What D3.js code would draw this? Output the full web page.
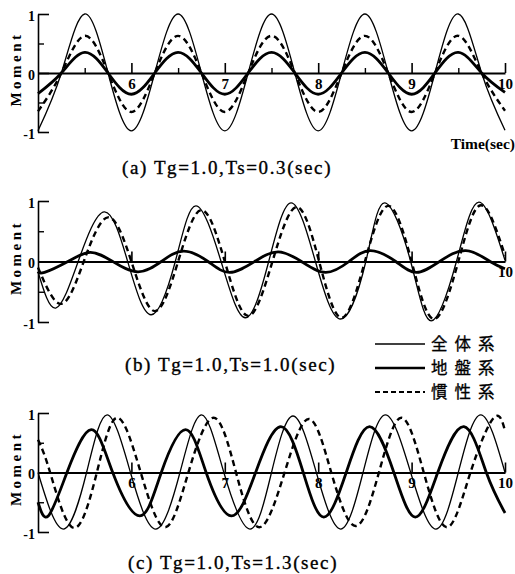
<!DOCTYPE html>
<html><head><meta charset="utf-8">
<script src="https://cdn.jsdelivr.net/npm/d3@7"></script>
<style>body{margin:0;background:#fff}svg{display:block}</style>
</head><body>
<svg id="chart" width="515" height="574"></svg>
<script>
// ---- data (time [s], normalized moment) ----
const aTotal = [[5.0,-0.98],[5.25,0],[5.5,1.0],[5.75,0],[6.0,-0.98],[6.25,0],[6.5,1.0],[6.75,0],[7.0,-0.98],[7.25,0],[7.5,1.0],[7.75,0],[8.0,-0.98],[8.25,0],[8.5,1.0],[8.75,0],[9.0,-0.98],[9.25,0],[9.5,1.0],[9.75,0],[10.0,-0.97]];
const aGround = [[5.0,-0.35],[5.25,0],[5.5,0.35],[5.75,0],[6.0,-0.36],[6.25,0],[6.5,0.35],[6.75,0],[7.0,-0.36],[7.25,0],[7.5,0.35],[7.75,0],[8.0,-0.36],[8.25,0],[8.5,0.35],[8.75,0],[9.0,-0.36],[9.25,0],[9.5,0.35],[9.75,0],[10.0,-0.33]];
const aInertial = [[5.0,-0.65],[5.25,0],[5.5,0.63],[5.75,0],[6.0,-0.66],[6.25,0],[6.5,0.63],[6.75,0],[7.0,-0.66],[7.25,0],[7.5,0.63],[7.75,0],[8.0,-0.66],[8.25,0],[8.5,0.63],[8.75,0],[9.0,-0.66],[9.25,0],[9.5,0.63],[9.75,0],[10.0,-0.64]];

const bTotal = [[5.0,-0.17],[5.19,-0.77],[5.43,0],[5.71,0.82],[5.96,0],[6.21,-0.88],[6.47,0],[6.69,0.92],[6.96,0],[7.22,-0.93],[7.47,0],[7.71,0.97],[7.97,0],[8.24,-0.95],[8.51,0],[8.71,0.97],[8.99,0],[9.21,-0.98],[9.48,0],[9.72,0.98],[10.0,0.02]];
const bGround = [[5.0,-0.17],[5.07,-0.18],[5.32,0],[5.56,0.15],[5.8,0],[6.07,-0.17],[6.32,0],[6.56,0.17],[6.82,0],[7.05,-0.18],[7.32,0],[7.57,0.16],[7.82,0],[8.08,-0.18],[8.33,0],[8.56,0.18],[8.83,0],[9.05,-0.18],[9.3,0],[9.58,0.18],[9.84,0],[10.0,-0.12]];
const bInertial = [[5.0,-0.1],[5.25,-0.7],[5.49,0],[5.75,0.73],[6.0,0],[6.25,-0.82],[6.5,0],[6.75,0.85],[7.0,0],[7.25,-0.9],[7.51,0],[7.77,0.9],[8.01,0],[8.25,-0.93],[8.5,0],[8.75,0.92],[9.0,0],[9.24,-0.95],[9.5,0],[9.74,0.93],[10.0,0.1]];

const cTotal = [[5.0,0],[5.27,-0.95],[5.52,0],[5.74,0.97],[5.99,0],[6.26,-0.95],[6.52,0],[6.75,0.97],[6.99,0],[7.27,-0.95],[7.5,0],[7.73,0.95],[7.98,0],[8.24,-0.95],[8.48,0],[8.72,0.97],[8.99,0],[9.26,-0.95],[9.5,0],[9.74,0.97],[10.0,0]];
const cGround = [[5.0,-0.5],[5.11,-0.73],[5.31,0],[5.57,0.72],[5.8,0],[6.09,-0.73],[6.32,0],[6.58,0.72],[6.8,0],[7.07,-0.73],[7.33,0],[7.6,0.77],[7.84,0],[8.06,-0.75],[8.3,0],[8.55,0.77],[8.81,0],[9.04,-0.75],[9.28,0],[9.56,0.77],[9.8,0],[10.0,-0.68]];
const cInertial = [[5.0,0.55],[5.13,0],[5.38,-0.93],[5.63,0],[5.85,0.92],[6.1,0],[6.36,-0.92],[6.61,0],[6.88,0.92],[7.12,0],[7.37,-0.92],[7.64,0],[7.9,0.9],[8.14,0],[8.4,-0.9],[8.65,0],[8.89,0.92],[9.13,0],[9.38,-0.92],[9.63,0],[9.88,0.92],[10.0,0.7]];

const captions = ["(a) Tg=1.0,Ts=0.3(sec)", "(b) Tg=1.0,Ts=1.0(sec)", "(c) Tg=1.0,Ts=1.3(sec)"];
const legendLabels = ["全体系", "地盤系", "慣性系"];
const xTickValues = [6, 7, 8, 9, 10];
const xHalfTickValues = [5.5, 6.5, 7.5, 8.5, 9.5];
const yLabelTicks = [-1, 0, 1];
const yMinorTicks = [-0.5, 0.5];
const yAxisTitle = "Moment";
const xAxisTitle = "Time(sec)";

// ---- drawing ----
const svg = d3.select("#chart");
const SERIF = "'Liberation Serif','Times New Roman',serif";
const x = d3.scaleLinear().domain([5, 10]).range([38, 505]);

const panels = [
  {series: [aTotal, aGround, aInertial], top: 14, bottom: 132, capX: 122, capY: 174, xLabels: xTickValues, half: true, title: true},
  {series: [bTotal, bGround, bInertial], top: 201, bottom: 322, capX: 125, capY: 371, xLabels: [10], half: false, title: false},
  {series: [cTotal, cGround, cInertial], top: 413, bottom: 532, capX: 128, capY: 569, xLabels: xTickValues, half: false, title: false}
];
const styles = [
  {w: 1.3, dash: null},
  {w: 2.8, dash: null},
  {w: 2.4, dash: "6,4"}
];

panels.forEach((p, i) => {
  const y = d3.scaleLinear().domain([-1, 1]).range([p.bottom, p.top]);
  const g = svg.append("g");

  // y axis
  const ya = g.append("g").attr("transform", `translate(${x(5)},0)`)
    .call(d3.axisLeft(y).tickValues(yLabelTicks).tickSize(-11).tickSizeOuter(0).tickPadding(3)
      .tickFormat(d => String(d)));
  ya.select(".domain").attr("stroke-width", 1.6);
  ya.selectAll(".tick line").attr("stroke-width", 1.6);
  ya.selectAll("text").attr("font-family", SERIF).attr("font-weight", "bold")
    .attr("font-size", 14).attr("dy", "0.45em");
  const ym = g.append("g").attr("transform", `translate(${x(5)},0)`)
    .call(d3.axisLeft(y).tickValues(yMinorTicks).tickSize(-6).tickFormat(""));
  ym.select(".domain").remove();
  ym.selectAll(".tick line").attr("stroke-width", 1.4);

  // curves
  const line = d3.line().x(d => x(d[0])).y(d => y(d[1])).curve(d3.curveNatural);
  p.series.forEach((s, k) => {
    g.append("path").datum(s).attr("d", line)
      .attr("fill", "none").attr("stroke", "#000")
      .attr("stroke-width", styles[k].w)
      .attr("stroke-dasharray", styles[k].dash);
  });

  // x axis (zero line)
  const xa = g.append("g").attr("transform", `translate(0,${y(0)})`)
    .call(d3.axisBottom(x).tickValues(xTickValues).tickSize(-10).tickSizeOuter(0).tickPadding(5)
      .tickFormat(d => p.xLabels.includes(d) ? String(d) : ""));
  xa.select(".domain").attr("stroke-width", 2.2);
  xa.selectAll(".tick line").attr("stroke-width", 1.6);
  xa.selectAll("text").attr("font-family", SERIF).attr("font-weight", "bold").attr("font-size", 15);
  if (p.half) {
    const xh = g.append("g").attr("transform", `translate(0,${y(0)})`)
      .call(d3.axisBottom(x).tickValues(xHalfTickValues).tickSize(-5).tickFormat(""));
    xh.select(".domain").remove();
    xh.selectAll(".tick line").attr("stroke-width", 1.4);
  }

  // y title
  g.append("text")
    .attr("transform", `translate(21,${(p.top + p.bottom) / 2 - 4}) rotate(-90)`)
    .attr("text-anchor", "middle")
    .attr("font-family", SERIF).attr("font-weight", "bold").attr("font-size", 15)
    .attr("letter-spacing", 3.5)
    .text(yAxisTitle);

  // caption
  g.append("text")
    .attr("x", p.capX).attr("y", p.capY)
    .attr("font-family", SERIF).attr("font-size", 19)
    .attr("letter-spacing", 1.6)
    .attr("stroke", "#000").attr("stroke-width", 0.35)
    .text(captions[i]);

  if (p.title) {
    g.append("text").attr("x", 515).attr("y", 149).attr("text-anchor", "end")
      .attr("font-family", SERIF).attr("font-weight", "bold").attr("font-size", 15.5)
      .text(xAxisTitle);
  }
});

// legend
const legendY = [344, 368, 392];
const legend = svg.append("g");
legendLabels.forEach((lab, k) => {
  legend.append("line").attr("x1", 375).attr("x2", 425)
    .attr("y1", legendY[k]).attr("y2", legendY[k])
    .attr("stroke", "#000")
    .attr("stroke-width", [1.5, 2.6, 2][k])
    .attr("stroke-dasharray", k === 2 ? "5,3" : null);
  legend.append("text").attr("x", 431).attr("y", legendY[k] + 6)
    .attr("font-family", "'Noto Sans CJK JP','Noto Sans CJK SC',sans-serif")
    .attr("font-size", 16.5).attr("letter-spacing", 7)
    .attr("stroke", "#000").attr("stroke-width", 0.3)
    .text(lab);
});
</script>
</body></html>
